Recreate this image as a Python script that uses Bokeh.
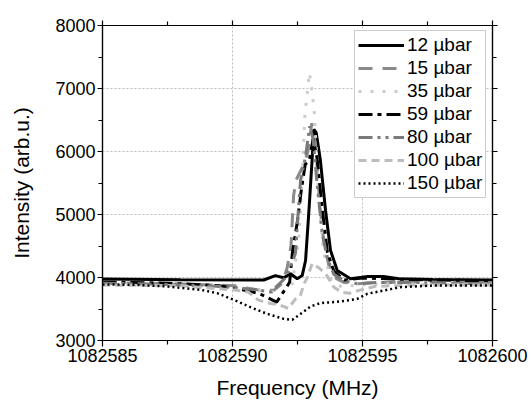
from bokeh.plotting import figure
from bokeh.models import LinearAxis, FixedTicker, BasicTickFormatter, CustomJSTickFormatter, Legend, LegendItem
from bokeh.embed import file_html
from bokeh.resources import INLINE

x_ticks = [1082585, 1082590, 1082595, 1082600]
x_minor = [1082587.5, 1082592.5, 1082597.5]
y_ticks = [3000, 4000, 5000, 6000, 7000, 8000]
y_minor = [3500, 4500, 5500, 6500, 7500]

f12 = [1082585, 1082588, 1082591.2, 1082591.65, 1082591.97, 1082592.23, 1082592.49, 1082592.68, 1082592.81,
       1082592.94, 1082593.06, 1082593.13, 1082593.22, 1082593.38, 1082593.58, 1082593.77, 1082594.03,
       1082594.54, 1082595.2, 1082595.8, 1082596.4, 1082597.7, 1082600]
i12 = [3975, 3965, 3960, 4030, 3995, 4060, 3980, 4030, 4270, 5060, 5860, 6350, 6300, 5860, 5060, 4430,
       4110, 3980, 4015, 4015, 3980, 3970, 3960]

f15 = [1082585, 1082587.5, 1082590.2, 1082590.7, 1082591.2, 1082591.6, 1082591.9, 1082592.1, 1082592.25,
       1082592.35, 1082592.45, 1082592.75, 1082592.9, 1082593.05, 1082593.2, 1082593.35, 1082593.5,
       1082593.7, 1082594.0, 1082594.3, 1082594.8, 1082595.5, 1082597, 1082600]
i15 = [3920, 3905, 3870, 3820, 3790, 3800, 3900, 4150, 4500, 5300, 5550, 5800, 6000, 6450, 6100, 5200,
       4600, 4200, 3980, 3920, 3900, 3920, 3930, 3920]

f35 = [1082585, 1082588, 1082590, 1082591.3, 1082591.9, 1082592.3, 1082592.55, 1082592.7, 1082592.78,
       1082592.85, 1082592.96, 1082593.06, 1082593.15, 1082593.3, 1082593.5, 1082593.8, 1082594.2,
       1082594.8, 1082596, 1082598, 1082600]
i35 = [3890, 3880, 3850, 3780, 3760, 3900, 4600, 5750, 6550, 6850, 7250, 6950, 6600, 5400, 4400, 3950,
       3850, 3880, 3900, 3890, 3880]

f59 = [1082585, 1082587.5, 1082589.5, 1082590.6, 1082591.1, 1082591.7, 1082592.04, 1082592.2, 1082592.3,
       1082592.5, 1082592.65, 1082592.8, 1082592.95, 1082593.1, 1082593.25, 1082593.45, 1082593.65,
       1082593.9, 1082594.3, 1082595, 1082596, 1082597.5, 1082600]
i59 = [3930, 3910, 3870, 3790, 3730, 3610, 3820, 3930, 4380, 4900, 5400, 5800, 5850, 6200, 5900, 5100,
       4400, 4100, 3960, 3990, 3980, 3960, 3950]

f80 = [1082585, 1082587.5, 1082590, 1082591.0, 1082591.5, 1082591.75, 1082592.0, 1082592.2, 1082592.42,
       1082592.52, 1082592.62, 1082592.8, 1082592.97, 1082593.1, 1082593.25, 1082593.45, 1082593.65,
       1082593.9, 1082594.3, 1082594.8, 1082595.5, 1082597, 1082600]
i80 = [3910, 3890, 3850, 3800, 3770, 3880, 3980, 4140, 4380, 5000, 5550, 5900, 6400, 6200, 5500, 4700,
       4300, 4050, 3950, 3900, 3920, 3920, 3900]

f100 = [1082585, 1082588, 1082590.1, 1082590.6, 1082591.0, 1082591.3, 1082591.85, 1082592.15, 1082592.4,
        1082592.6, 1082592.75, 1082592.88, 1082593.06, 1082593.3, 1082593.58, 1082593.75, 1082593.9,
        1082594.2, 1082594.5, 1082594.9, 1082595.5, 1082597, 1082600]
i100 = [3880, 3870, 3800, 3770, 3640, 3600, 3560, 3510, 3650, 3700, 3900, 4000, 4220, 4160, 4060, 3950,
        3846, 3767, 3750, 3800, 3860, 3880, 3880]

f150 = [1082585, 1082586.2, 1082587.5, 1082588.77, 1082589.41, 1082590.05, 1082590.69, 1082591.33,
        1082591.97, 1082592.3, 1082592.62, 1082593.0, 1082593.38, 1082594.15, 1082594.8, 1082595.18,
        1082596.46, 1082597.74, 1082600]
i150 = [3890, 3884, 3857, 3805, 3751, 3646, 3529, 3423, 3344, 3328, 3423, 3540, 3593, 3619, 3661, 3741,
        3846, 3873, 3875]

labels = ["12 µbar", "15 µbar", "35 µbar", "59 µbar", "80 µbar", "100 µbar", "150 µbar"]

FONT = "Liberation Sans"

p = figure(width=530, height=402, output_backend="svg", toolbar_location=None,
           x_range=(1082585, 1082600), y_range=(3000, 8000),
           min_border_left=102, min_border_right=38, min_border_top=25, min_border_bottom=62)
p.background_fill_color = "white"
p.border_fill_color = "white"
p.outline_line_color = "black"
p.outline_line_width = 1.2

def style_axis(ax, ticks, minor, show_labels):
    ax.ticker = FixedTicker(ticks=ticks, minor_ticks=minor)
    ax.axis_line_color = "black"
    ax.axis_line_width = 1.2
    ax.major_tick_line_color = "black"
    ax.minor_tick_line_color = "black"
    ax.major_tick_line_width = 1.2
    ax.minor_tick_line_width = 1.2
    ax.major_tick_out = 5
    ax.major_tick_in = 0
    ax.minor_tick_out = 4
    ax.minor_tick_in = 0
    ax.major_label_text_font = FONT
    ax.major_label_text_color = "black"
    ax.major_label_text_font_size = "18px"
    ax.axis_label_text_font = FONT
    ax.axis_label_text_font_style = "normal"
    ax.axis_label_text_color = "black"
    ax.axis_label_text_font_size = "21px"
    if show_labels:
        ax.formatter = BasicTickFormatter(use_scientific=False)
    else:
        ax.formatter = CustomJSTickFormatter(code="return ''")
        ax.major_label_standoff = 0

xa = p.xaxis[0]
ya = p.yaxis[0]
style_axis(xa, x_ticks, x_minor, True)
style_axis(ya, y_ticks, y_minor, True)
xa.axis_label = "Frequency (MHz)"
ya.axis_label = "Intensity (arb.u.)"
xa.major_tick_out = 6
xa.major_label_standoff = 2
xa.axis_label_standoff = 11
ya.major_label_standoff = 2
ya.axis_label_standoff = 19

ta = LinearAxis()
ra = LinearAxis()
style_axis(ta, x_ticks, x_minor, False)
style_axis(ra, y_ticks, y_minor, False)
p.add_layout(ta, "above")
p.add_layout(ra, "right")

p.xgrid.ticker = FixedTicker(ticks=[1082590, 1082595])
p.ygrid.ticker = FixedTicker(ticks=[4000, 5000, 6000, 7000])
for g in (p.xgrid[0], p.ygrid[0]):
    g.grid_line_color = "#bdbdbd"
    g.grid_line_dash = "2 2"
    g.grid_line_width = 1

series = [
    (f12, i12, "black", "solid", 3),
    (f15, i15, "#8a8a8a", "14 10", 3),
    (f35, i35, "#cccccc", "3 9", 3),
    (f59, i59, "black", "14 5 4 5", 3),
    (f80, i80, "#7a7a7a", "14 5 3 5 3 5", 3),
    (f100, i100, "#bdbdbd", "8 5", 3),
    (f150, i150, "black", "2 3", 2.5),
]

items = []
for (xs, ys, col, dash, w), lab in zip(series, labels):
    r = p.line(xs, ys, line_color=col, line_dash=dash, line_width=w)
    items.append(LegendItem(label=lab, renderers=[r]))

legend = Legend(items=items, location=(252, 142))
legend.margin = 0
legend.padding = 3
legend.spacing = 1
legend.label_height = 22
legend.glyph_height = 22
legend.glyph_width = 46
legend.label_standoff = 3
legend.label_text_font = FONT
legend.label_text_font_size = "19px"
legend.label_text_color = "black"
legend.border_line_color = "#999999"
legend.border_line_width = 1
legend.background_fill_alpha = 1
p.add_layout(legend, "center")

open("out.html", "w").write(file_html(p, INLINE))
